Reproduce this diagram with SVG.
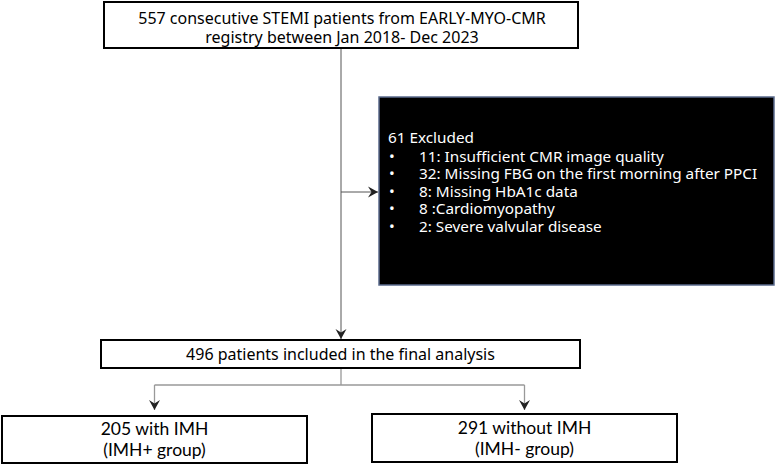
<svg xmlns="http://www.w3.org/2000/svg" width="776" height="466" viewBox="0 0 776 466">
<style>
.box{fill:#fff;stroke:#000;stroke-width:2}
.t{font-family:"Noto Sans","Open Sans","DejaVu Sans",sans-serif;font-size:16px;fill:#000;text-anchor:middle}
.tn{font-family:"Lato","Noto Sans",sans-serif;font-size:17.5px;fill:#000;text-anchor:middle}
.w{font-family:"Noto Sans","Open Sans","DejaVu Sans",sans-serif;font-size:15.3px;fill:#fff}
.ln{fill:none;stroke:#555;stroke-width:1}
.lg{fill:none;stroke:#999;stroke-width:1.3}
</style>
<defs>
<marker id="ah" markerWidth="12" markerHeight="12" refX="10" refY="6" orient="auto" markerUnits="userSpaceOnUse">
<path d="M0,0.5 L10,6 L0,11.5 L3.5,6 Z" fill="#222"/>
</marker>
</defs>
<g id="connectors">
<path class="ln" d="M341,48 V339" marker-end="url(#ah)"/>
<path class="ln" d="M341,192 H378" marker-end="url(#ah)"/>
<path class="lg" d="M341,368 V385 M154.5,385 H524.5"/>
<path class="lg" d="M154.5,385 V410" marker-end="url(#ah)"/>
<path class="lg" d="M524.5,385 V410" marker-end="url(#ah)"/>
</g>
<g id="n1">
<rect class="box" x="104" y="2" width="474" height="46"/>
<text class="t" x="342" y="23.5">557 consecutive STEMI patients from EARLY-MYO-CMR</text>
<text class="t" x="342" y="43">registry between Jan 2018- Dec 2023</text>
</g>
<g id="n2">
<rect x="379" y="97" width="395" height="188" fill="#000" stroke="#5a6a8c" stroke-width="1.5"/>
<text class="w" x="388" y="142.5" font-size="16.5">61 Excluded</text>
<text class="w" y="161.5"><tspan x="389">•</tspan><tspan x="419">11: Insufficient CMR image quality</tspan></text>
<text class="w" y="179"><tspan x="389">•</tspan><tspan x="419">32: Missing FBG on the first morning after PPCI</tspan></text>
<text class="w" y="196.5"><tspan x="389">•</tspan><tspan x="419">8: Missing HbA1c data</tspan></text>
<text class="w" y="214"><tspan x="389">•</tspan><tspan x="419">8 :Cardiomyopathy</tspan></text>
<text class="w" y="231.5"><tspan x="389">•</tspan><tspan x="419">2: Severe valvular disease</tspan></text>
</g>
<g id="n3">
<rect class="box" x="101" y="340" width="479" height="28"/>
<text class="t" x="340.5" y="360">496 patients included in the final analysis</text>
</g>
<g id="n4">
<rect class="box" x="2" y="416" width="305" height="47"/>
<text class="tn" x="154.5" y="435">205 with IMH</text>
<text class="tn" x="154.5" y="456">(IMH+ group)</text>
</g>
<g id="n5">
<rect class="box" x="372" y="414" width="305" height="48"/>
<text class="tn" x="524.5" y="434">291 without IMH</text>
<text class="tn" x="524.5" y="455">(IMH- group)</text>
</g>
</svg>
